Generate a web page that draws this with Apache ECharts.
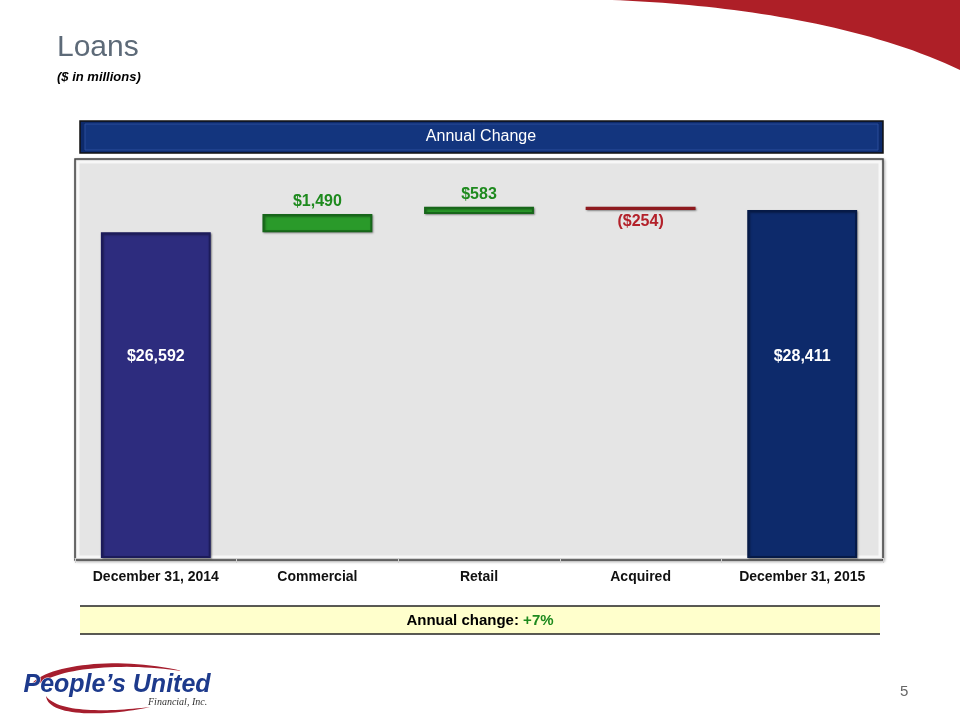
<!DOCTYPE html>
<html><head><meta charset="utf-8">
<script src="https://cdn.jsdelivr.net/npm/echarts@6/dist/echarts.min.js"></script>
<style>html,body{margin:0;padding:0;background:#fff}#c{width:960px;height:720px}</style>
</head><body><div id="c"></div>
<script>
const categories = ['December 31, 2014', 'Commercial', 'Retail', 'Acquired', 'December 31, 2015'];
const changes = [26592, 1490, 583, -254, 28411];
const valueLabels = ['$26,592', '$1,490', '$583', '($254)', '$28,411'];
const isTotal = [true, false, false, false, true];

// build waterfall base / visible segments
const base = [], seg = [];
let running = 0;
changes.forEach((v, i) => {
  if (isTotal[i]) { base.push(0); seg.push(v); running = v; }
  else if (v >= 0) { base.push(running); seg.push(v); running += v; }
  else { running += v; base.push(running); seg.push(-v); }
});

// decoration helper: sample cubic bezier
function bez(p0, p1, p2, p3, n) {
  const out = [];
  for (let k = 0; k <= n; k++) {
    const t = k / n, u = 1 - t;
    out.push([
      u*u*u*p0[0] + 3*u*u*t*p1[0] + 3*u*t*t*p2[0] + t*t*t*p3[0],
      u*u*u*p0[1] + 3*u*u*t*p1[1] + 3*u*t*t*p2[1] + t*t*t*p3[1]
    ]);
  }
  return out;
}
const swoosh = bez([612, 0], [720, 4], [860, 22], [960, 70], 40).concat([[960, 0]]);
const arcTop = bez([30, 686], [44, 664], [120, 656], [182, 671], 30)
  .concat(bez([182, 671], [120, 662], [56, 668], [36, 686], 30));
const arcBot = bez([46, 696], [48, 718], [110, 716], [150, 707], 30)
  .concat(bez([150, 707], [108, 712], [58, 713], [46, 696], 30));

const F = 'Liberation Sans, Arial, sans-serif';
const segStyles = [
  { color: '#2d2c7e', borderColor: '#1c1b5a' },
  { color: '#2a9a2a', borderColor: '#17661a' },
  { color: '#2a9a2a', borderColor: '#17661a' },
  { color: '#c1272d', borderColor: '#8e1a1f' },
  { color: '#0d2a6b', borderColor: '#061a47' }
];
const labelCfg = [
  { position: 'inside', offset: [0, -39], color: '#ffffff' },
  { position: 'top', distance: 4, color: '#1e8a1e' },
  { position: 'top', distance: 4, color: '#1e8a1e' },
  { position: 'bottom', distance: 4, color: '#b3212a' },
  { position: 'inside', offset: [0, -27], color: '#ffffff' }
];

const chart = echarts.init(document.getElementById('c'));
chart.setOption({
  animation: false,
  grid: { left: 75, right: 77, top: 166, bottom: 162 },
  xAxis: {
    type: 'category', data: categories,
    axisLine: { show: true, lineStyle: { color: '#cfcfcf' } },
    axisTick: { show: true, length: 5, lineStyle: { color: '#cfcfcf' } },
    axisLabel: { interval: 0, color: '#111', fontFamily: F, fontWeight: 'bold', fontSize: 14, margin: 12 }
  },
  yAxis: { type: 'value', min: 0, max: 32000, show: false, splitLine: { show: false } },
  graphic: [
    { type: 'polygon', z: -10, shape: { points: swoosh }, style: { fill: '#ae1f27' } },
    { type: 'text', left: 57, top: 33, style: { text: 'Loans', font: '30px Liberation Sans, Arial', fill: '#5d6a78' } },
    { type: 'text', left: 57, top: 71, style: { text: '($ in millions)', font: 'italic bold 13px Liberation Sans, Arial', fill: '#000' } },
    { type: 'rect', z: -5, shape: { x: 80, y: 121, width: 803, height: 32 }, style: { fill: '#0d2a6b', stroke: '#111', lineWidth: 1.5 } },
    { type: 'rect', z: -4, shape: { x: 85, y: 124, width: 793, height: 26 }, style: { fill: '#13357e', stroke: '#2a4d9a', lineWidth: 1 } },
    { type: 'text', z: 5, x: 481, y: 137, style: { text: 'Annual Change', font: '16px Liberation Sans, Arial', fill: '#ffffff', align: 'center', verticalAlign: 'middle' } },
    { type: 'rect', z: -5, shape: { x: 75, y: 159, width: 808, height: 401 }, style: { fill: '#e5e5e5', stroke: '#444', lineWidth: 1.5, shadowBlur: 3, shadowColor: 'rgba(0,0,0,0.3)', shadowOffsetX: 1, shadowOffsetY: 1 } },
    { type: 'rect', z: -4, shape: { x: 78, y: 162, width: 802, height: 395 }, style: { fill: 'none', stroke: '#f7f7f7', lineWidth: 3 } },
    { type: 'rect', z: -5, shape: { x: 80, y: 606, width: 800, height: 28 }, style: { fill: '#ffffcc' } },
    { type: 'line', shape: { x1: 80, y1: 606, x2: 880, y2: 606 }, style: { stroke: '#222', lineWidth: 1.5 } },
    { type: 'line', shape: { x1: 80, y1: 634, x2: 880, y2: 634 }, style: { stroke: '#222', lineWidth: 1.5 } },
    { type: 'text', x: 480, y: 621, style: {
        text: '{a|Annual change: }{b|+7%}', align: 'center', verticalAlign: 'middle',
        rich: { a: { font: 'bold 15px Liberation Sans, Arial', fill: '#000' }, b: { font: 'bold 15px Liberation Sans, Arial', fill: '#1e8a1e' } } } },
    { type: 'polygon', z: 1, shape: { points: arcTop }, style: { fill: '#a61e2e' } },
    { type: 'polygon', z: 1, shape: { points: arcBot }, style: { fill: '#a61e2e' } },
    { type: 'text', z: 2, left: 23, top: 672, style: { text: "People\u2019s United", font: 'italic bold 25px Liberation Sans, Arial', fill: '#1d3a8c', stroke: '#ffffff', lineWidth: 1 } },
    { type: 'text', z: 2, left: 148, top: 697, style: { text: 'Financial, Inc.', font: 'italic 10px Liberation Serif, serif', fill: '#333' } },
    { type: 'text', left: 900, top: 684, style: { text: '5', font: '15px Liberation Sans, Arial', fill: '#666' } }
  ],
  series: [
    {
      type: 'bar', stack: 'w', data: base, barCategoryGap: '32%',
      itemStyle: { color: 'transparent' }, emphasis: { disabled: true }, silent: true
    },
    {
      type: 'bar', stack: 'w', barCategoryGap: '32%',
      data: seg.map((v, i) => ({
        value: v,
        itemStyle: Object.assign({ borderWidth: 2, shadowBlur: 2, shadowColor: 'rgba(0,0,0,0.35)', shadowOffsetX: 1, shadowOffsetY: 1 }, segStyles[i]),
        label: Object.assign({ show: true, formatter: valueLabels[i], fontFamily: F, fontWeight: 'bold', fontSize: 16 }, labelCfg[i])
      }))
    }
  ]
});
</script></body></html>
